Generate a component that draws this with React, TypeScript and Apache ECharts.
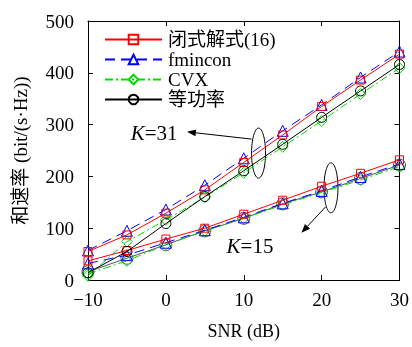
import React, { useEffect, useRef } from "react";
import * as echarts from "echarts";

const snr = [-10, -5, 0, 5, 10, 15, 20, 25, 30];
// K = 31
const closedK31 = [55, 87, 129, 174, 227, 280, 335, 386, 436];
const fminconK31 = [57, 95, 136, 183, 235, 288, 338, 391, 441];
const cvxK31 = [8, 74, 116, 160, 207, 257, 307, 359, 409];
const equalK31 = [14, 55, 109, 161, 211, 262, 314, 365, 416];
// K = 15
const closedK15 = [37, 57, 79, 100, 127, 154, 181, 206, 232];
const fminconK15 = [32, 48, 72, 96, 121, 148, 172, 199, 224];
const cvxK15 = [12, 37, 68, 95, 119, 145, 169, 193, 219];
const equalK15 = [16, 42, 68, 95, 119, 147, 170, 196, 222];

const names = ["闭式解式(16)", "fmincon", "CVX", "等功率"];
const yTicks = [0, 100, 200, 300, 400, 500];

const FONT = "'Liberation Serif', 'Noto Sans CJK SC', serif";

export default function App() {
  const ref = useRef<HTMLDivElement>(null);
  useEffect(() => {
    if (!ref.current) return;
    const chart = echarts.init(ref.current, undefined, { renderer: "svg" });
    const pair = (ys: number[]) => snr.map((x, i) => [x, ys[i]]);
    const mk = (
      name: string,
      data: number[],
      color: string,
      symbol: string,
      size: number,
      type: any,
      z = 2
    ) => ({
      name,
      type: "line",
      data: pair(data),
      symbol,
      symbolSize: size,
      z,
      lineStyle: { color, width: 1, type },
      itemStyle: { color: "transparent", borderColor: color, borderWidth: 1 },
    });
    const axisLine = { show: true, onZero: false, lineStyle: { color: "#000" } };
    const axisTick = { inside: true, length: 5, lineStyle: { color: "#000" } };
    chart.setOption({
      animation: false,
      textStyle: { fontFamily: FONT },
      grid: { left: 88, right: 12, top: 21, bottom: 67 },
      legend: {
        data: names.map((n) => ({ name: n })),
        orient: "vertical",
        left: 104,
        top: 30,
        padding: 0,
        itemWidth: 57,
        itemHeight: 12,
        itemGap: 1,
        textStyle: { fontFamily: FONT, fontSize: 19, color: "#000", padding: [0, 0, 0, 1] },
      },
      xAxis: [
        {
          type: "value",
          min: -10,
          max: 30,
          interval: 10,
          name: "SNR (dB)",
          nameLocation: "middle",
          nameGap: 42,
          nameTextStyle: { fontFamily: FONT, fontSize: 18, color: "#000" },
          axisLine,
          axisTick,
          axisLabel: {
            fontFamily: FONT,
            fontSize: 19,
            color: "#000",
            margin: 10,
            formatter: (v: number) => String(v).replace("-", "\u2212"),
          },
          splitLine: { show: false },
        },
        {
          type: "value",
          position: "top",
          min: -10,
          max: 30,
          interval: 10,
          axisLine,
          axisTick,
          axisLabel: { show: false },
          splitLine: { show: false },
        },
      ],
      yAxis: [
        {
          type: "value",
          min: 0,
          max: 500,
          interval: 100,
          name: "和速率 (bit/(s·Hz))",
          nameLocation: "middle",
          nameGap: 58,
          nameTextStyle: { fontFamily: FONT, fontSize: 19, color: "#000" },
          axisLine,
          axisTick,
          axisLabel: {
            fontFamily: FONT,
            fontSize: 19,
            color: "#000",
            margin: 14,
            formatter: (v: number) => (yTicks.includes(v) ? String(v) : ""),
          },
          splitLine: { show: false },
        },
        {
          type: "value",
          position: "right",
          min: 0,
          max: 500,
          interval: 100,
          axisLine,
          axisTick,
          axisLabel: { show: false },
          splitLine: { show: false },
        },
      ],
      series: [
        mk(names[0], closedK31, "#ff0000", "rect", 8, "solid", 4),
        mk(names[1], fminconK31, "#0000ff", "triangle", 11, [10, 6], 3),
        mk(names[2], cvxK31, "#00dd00", "diamond", 11, [8, 3, 2, 3], 2),
        mk(names[3], equalK31, "#000000", "circle", 10, "solid", 5),
        mk(names[0], closedK15, "#ff0000", "rect", 8, "solid", 4),
        mk(names[1], fminconK15, "#0000ff", "triangle", 11, [10, 6], 3),
        mk(names[2], cvxK15, "#00dd00", "diamond", 11, [8, 3, 2, 3], 2),
        mk(names[3], equalK15, "#555555", "circle", 12, "solid", 1),
      ],
    });

    const p = (x: number, y: number) =>
      chart.convertToPixel({ xAxisIndex: 0, yAxisIndex: 0 }, [x, y]) as number[];
    const arrow = (from: number[], to: number[]) => {
      const a = p(from[0], from[1]);
      const b = p(to[0], to[1]);
      const ang = Math.atan2(b[1] - a[1], b[0] - a[0]);
      const L = 9, W = 3.5;
      const bx = b[0] - L * Math.cos(ang), by = b[1] - L * Math.sin(ang);
      const nx = -Math.sin(ang) * W, ny = Math.cos(ang) * W;
      return [
        { type: "line", shape: { x1: a[0], y1: a[1], x2: bx, y2: by }, style: { stroke: "#000", lineWidth: 1 } },
        {
          type: "polygon",
          shape: { points: [[b[0], b[1]], [bx + nx, by + ny], [bx - nx, by - ny]] },
          style: { fill: "#000" },
        },
      ];
    };
    const e31 = p(11.9, 245);
    const e15 = p(21.2, 178);
    const t31 = p(1.5, 283);
    const t15 = p(10.8, 66);
    const rich = { i: { fontFamily: FONT, fontSize: 21, fontStyle: "italic", fill: "#000" } };
    chart.setOption({
      graphic: [
        { type: "ellipse", shape: { cx: e31[0], cy: e31[1], rx: 7, ry: 25 }, style: { fill: "none", stroke: "#000", lineWidth: 1 } },
        { type: "ellipse", shape: { cx: e15[0], cy: e15[1], rx: 7, ry: 25 }, style: { fill: "none", stroke: "#000", lineWidth: 1 } },
        ...arrow([11.0, 272], [2.7, 286]),
        ...arrow([20.5, 141], [17.4, 91]),
        {
          type: "text",
          x: t31[0],
          y: t31[1],
          style: {
            text: "{i|K}=31",
            rich,
            font: `21px ${FONT}`,
            fill: "#000",
            align: "right",
            verticalAlign: "middle",
          },
        },
        {
          type: "text",
          x: t15[0],
          y: t15[1],
          style: {
            text: "{i|K}=15",
            rich,
            font: `21px ${FONT}`,
            fill: "#000",
            align: "center",
            verticalAlign: "middle",
          },
        },
      ],
    });
    return () => chart.dispose();
  }, []);
  return (
    <div
      ref={ref}
      style={{ position: "fixed", left: 0, top: 0, width: 412, height: 347 }}
    />
  );
}
